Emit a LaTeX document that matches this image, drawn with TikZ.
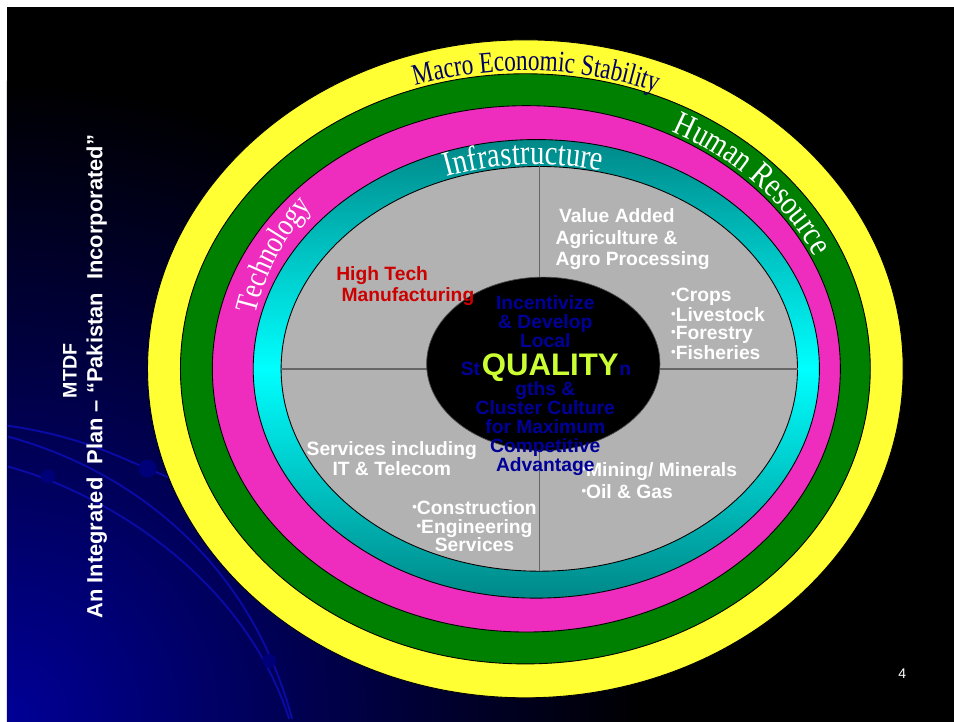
\documentclass[tikz,border=0pt]{standalone}
\usepackage{fontspec}
\setmainfont{Liberation Sans}
\newfontfamily\ringfont[FakeStretch=0.82]{Liberation Serif}
\newfontfamily\macrofont[FakeStretch=0.78]{Liberation Serif}
\usetikzlibrary{calc,decorations.text}
\newcommand\itembullet{{\fontsize{7.5}{7}\selectfont\raisebox{0.45ex}{•}}}

\begin{document}
\begin{tikzpicture}[x=0.02cm, y=0.02cm,
	ring/.style={draw=black, line width=0.5pt},
	divider/.style={draw=black!60, line width=0.9pt},
	swoosh/.style={draw=swooshblue, line width=1.1pt},
	sector/.style={text=white, inner sep=0pt, font=\bfseries\fontsize{11}{12.2}\selectfont},
	coretext/.style={text=coreblue, inner sep=0pt, align=center, font=\bfseries\fontsize{11}{10.8}\selectfont},
	sidetitle/.style={text=white, inner sep=0pt, rotate=90}
	]
	\definecolor{ringyellow}{RGB}{255,255,51}
	\definecolor{ringgreen}{RGB}{0,128,0}
	\definecolor{ringmagenta}{RGB}{238,44,190}
	\definecolor{ringteal}{RGB}{0,136,136}
	\definecolor{ringcyan}{RGB}{0,255,255}
	\definecolor{coregray}{RGB}{178,178,178}
	\definecolor{bgblue}{RGB}{0,0,150}
	\definecolor{dotblue}{RGB}{0,0,120}
	\definecolor{swooshblue}{RGB}{10,10,165}
	\definecolor{navyword}{RGB}{0,0,102}
	\definecolor{coreblue}{RGB}{0,0,153}
	\definecolor{techred}{RGB}{204,0,0}
	\definecolor{qualitygreen}{RGB}{204,255,51}

	% background
	\fill[white] (0,0) rectangle (954,721);
	\fill[black] (7,-3) rectangle (957,714);
	\begin{scope}
		\clip (7,-3) rectangle (957,714);
		\shade[inner color=bgblue, outer color=black] (7,0) circle[radius=640];
	\end{scope}
	\useasboundingbox (0,0) rectangle (954,721);

	% swooshes
	\draw[swoosh] (7,294) .. controls (80,284) and (120,262) .. (148,251) .. controls (175,240) and (195,230) .. (215,218);
	\draw[swoosh] (8,283) .. controls (130,250) and (250,160) .. (293,0);
	\draw[swoosh] (8,253) .. controls (110,225) and (245,140) .. (290,0);
	\fill[dotblue] (148,251) circle[radius=9];
	\fill[dotblue] (48,243) circle[radius=7];
	\fill[dotblue] (270,58) circle[radius=7];

	% rings
	\coordinate (outer) at (527,351);
	\coordinate (mid) at (528,351);
	\coordinate (inner) at (538,351);
	\filldraw[ring, fill=ringyellow] (outer) ellipse[x radius=379, y radius=330];
	\filldraw[ring, fill=ringgreen] (outer) ellipse[x radius=346, y radius=296];
	\filldraw[ring, fill=ringmagenta] (mid) ellipse[x radius=315, y radius=264];
	\shadedraw[ring, top color=ringteal, bottom color=ringteal, middle color=ringcyan] (inner) ellipse[x radius=284, y radius=230];
	\filldraw[ring, fill=coregray] (541,351) ellipse[x radius=259, y radius=203];

	% quadrants
	\coordinate (crossN) at (541,554);
	\coordinate (crossS) at (541,148);
	\coordinate (crossW) at (282,351);
	\coordinate (crossE) at (800,351);
	\draw[divider] (crossN) -- (crossS);
	\draw[divider] (crossW) -- (crossE);
	\filldraw[fill=black, draw=black!70] (545,356) ellipse[x radius=117, y radius=87];

	% ring labels
	\path[decorate, decoration={text along path, text align=center, text color=navyword,
		text={|\macrofont\fontsize{17}{18}\selectfont|Macro Economic Stability}}]
		($(outer)+(150:352 and 299)$) arc[start angle=150, end angle=26, x radius=352, y radius=299];
	\path[decorate, decoration={text along path, text align=center, text color=white,
		text={|\ringfont\fontsize{19.5}{20}\selectfont|Human Resource}}]
		($(outer)+(73:320 and 268)$) arc[start angle=73, end angle=13, x radius=320, y radius=268];
	\path[decorate, decoration={text along path, text align=center, text color=white,
		text={|\ringfont\fontsize{18}{20}\selectfont|Technology}}]
		($(inner)+(182:288 and 261)$) arc[start angle=182, end angle=128, x radius=288, y radius=261];
	\path[decorate, decoration={text along path, text align=center, text color=white,
		text={|\ringfont\fontsize{20}{20}\selectfont|Infrastructure}}]
		($(inner)+(130:262 and 205)$) arc[start angle=130, end angle=56, x radius=262, y radius=205];

	% sectors
	\node[sector, text=techred, align=left, anchor=west, font=\bfseries\fontsize{11}{12.5}\selectfont] (hightech) at (337,434) {High Tech\\\hspace{3pt}Manufacturing};
	\node[sector, align=left, anchor=west] (agro) at (557,481) {\hspace{2pt}Value Added\\Agriculture \&\\Agro Processing};
	\node[sector, align=left, anchor=west, font=\bfseries\fontsize{11}{10.2}\selectfont] (crops) at (673,396) {\itembullet Crops\\\itembullet Livestock\\\itembullet Forestry\\\itembullet Fisheries};
	\node[sector, align=center, font=\bfseries\fontsize{11}{11.3}\selectfont] (services) at (393,261) {Services including\\IT \& Telecom};
	\node[sector, align=center, font=\bfseries\fontsize{11}{10.5}\selectfont] (construction) at (476,193) {\itembullet Construction\\\itembullet Engineering\\Services};
	\node[sector, align=left, anchor=west, font=\bfseries\fontsize{11}{12.5}\selectfont] (mining) at (583,239) {\itembullet Mining/ Minerals\\\itembullet Oil \& Gas};

	% core
	\node[coretext] (incentive) at (547,398) {Incentivize\\\& Develop\\Local};
	\node[coretext] (cluster) at (547,291) {gths \&\\Cluster Culture\\for Maximum\\Competitive\\Advantage};
	\node[coretext, anchor=base east] (strleft) at (482,344) {St};
	\node[coretext, anchor=base west] (strright) at (621,344) {n};
	\node[inner sep=0pt, text=qualitygreen, anchor=base, font=\bfseries\fontsize{17.8}{20}\selectfont] (quality) at (552,344) {QUALITY};

	% side title
	\node[sidetitle, font=\bfseries\fontsize{11.2}{13}\selectfont] (mtdf) at (70,349) {MTDF};
	\node[sidetitle, font=\bfseries\fontsize{12.5}{14}\selectfont] (plan) at (97,343) {An Integrated\hspace{0.6em}Plan – “Pakistan\hspace{0.6em}Incorporated”};
	\node[text=white, font=\fontsize{8}{9}\selectfont] (pagenum) at (905,45) {4};
\end{tikzpicture}
\end{document}
